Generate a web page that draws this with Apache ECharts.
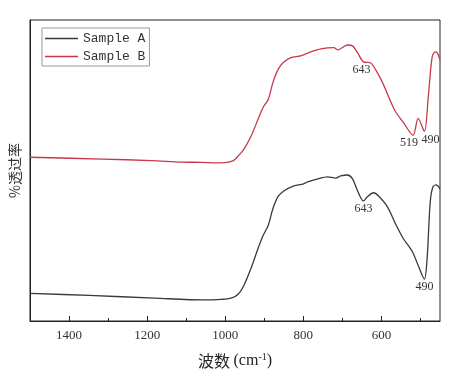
<!DOCTYPE html>
<html>
<head>
<meta charset="utf-8">
<script src="https://cdn.jsdelivr.net/npm/echarts@6/dist/echarts.min.js"></script>
<style>html,body{margin:0;padding:0;background:#fff}#c{width:450px;height:374px}</style>
</head>
<body>
<div id="c"></div>
<script>
const seriesNames = ['Sample A', 'Sample B'];
const majorTicks = [1400, 1200, 1000, 800, 600];
const minorTicks = [1300, 1100, 900, 700, 500];

const waveA = [1500,1349,1181,1054,1010,985,967,952,934,916,903,890,878,865,850,824,801,789,763,738,717,704,687,674,661,646,636,620,608,585,564,544,521,506,490,483,475,468,460,450];
const transA = [9.2,8.5,7.6,7.0,7.2,7.6,8.9,11.9,17.5,24.1,28.4,31.7,37.3,41.3,43.2,44.9,45.5,46.2,47.2,47.9,47.5,48.2,48.5,47.2,43.2,39.9,41.3,42.6,41.6,38.0,32.3,27.4,23.1,18.5,13.9,20.8,39.6,44.6,45.2,43.9];

const waveB = [1500,1316,1189,1112,1061,1010,980,967,952,934,916,903,890,878,865,852,832,807,781,755,722,712,687,674,661,646,628,615,597,582,564,544,519,506,490,480,470,462,457,450];
const transB = [54.4,53.8,53.3,52.8,52.7,52.5,53.2,54.8,57.1,61.4,67.0,71.0,73.6,79.2,83.5,85.8,87.5,88.1,89.4,90.4,90.8,90.1,91.7,91.4,89.1,86.1,85.8,83.5,79.2,74.6,69.6,66.0,61.7,67.3,63.0,74.6,87.8,89.4,89.1,86.8];

// peak annotations: [wavenumber, label text, offsetX]
const peaksA = [[646, '643', 0], [490, '490', 0]];
const peaksB = [[646, '643', -2], [519, '519', -4], [490, '490', 6]];

const serif = '"Liberation Serif", "DejaVu Serif", serif';

function buildMarks(w, t, peaks) {
  return peaks.map(p => {
    const i = w.indexOf(p[0]);
    return {
      coord: [w[i], t[i]],
      label: {show: true, position: 'bottom', distance: 2, offset: [p[2], 0], formatter: p[1],
        fontFamily: serif, fontSize: 12, color: '#333'}
    };
  });
}

const chart = echarts.init(document.getElementById('c'), null, {renderer: 'canvas'});
chart.setOption({
  animation: false,
  backgroundColor: '#fff',
  grid: {left: 27, right: 10, top: 20, bottom: 51, show: true, borderColor: '#222', borderWidth: 1, backgroundColor: 'transparent'},
  legend: {
    orient: 'vertical', left: 42, top: 28,
    data: seriesNames,
    icon: 'rect',
    itemWidth: 33, itemHeight: 1.6, itemGap: 3,
    padding: [3, 4, 2, 3],
    borderColor: '#999', borderWidth: 1,
    textStyle: {fontFamily: '"Liberation Mono", "DejaVu Sans Mono", monospace', fontSize: 13, color: '#333', lineHeight: 15}
  },
  xAxis: [{
    type: 'value', inverse: true, min: 450, max: 1500,
    name: '波数 {p|(cm}{s|-1}{p|)}', nameLocation: 'middle', nameGap: 31,
    nameTextStyle: {fontFamily: '"Noto Sans CJK SC", serif', fontSize: 16, color: '#222',
      rich: {p: {fontFamily: serif, fontSize: 16, color: '#222'}, s: {fontFamily: serif, fontSize: 10, color: '#222', verticalAlign: 'top', padding: [0, 0, 8, 0]}}},
    axisLine: {show: true, lineStyle: {color: '#222', width: 1}},
    axisTick: {show: true, inside: true, length: 5, customValues: majorTicks, lineStyle: {color: '#222'}},
    axisLabel: {show: true, customValues: majorTicks, formatter: v => String(v), fontFamily: serif, fontSize: 13, color: '#333', margin: 8},
    splitLine: {show: false}
  }, {
    type: 'value', inverse: true, min: 450, max: 1500, position: 'bottom',
    axisLine: {show: false},
    axisTick: {show: true, inside: true, length: 3, customValues: minorTicks, lineStyle: {color: '#222'}},
    axisLabel: {show: false},
    splitLine: {show: false}
  }],
  yAxis: {
    type: 'value', min: 0, max: 100,
    name: '%透过率', nameLocation: 'middle', nameGap: 8, nameRotate: 90,
    nameTextStyle: {fontFamily: '"Noto Sans CJK SC", serif', fontSize: 14, color: '#333'},
    axisLine: {show: true, lineStyle: {color: '#222'}},
    axisTick: {show: false}, axisLabel: {show: false}, splitLine: {show: false}
  },
  series: [{
    name: seriesNames[0], type: 'line', xAxisIndex: 0, symbol: 'none', smooth: 0.3,
    lineStyle: {color: '#3a3a3a', width: 1.3}, itemStyle: {color: '#3a3a3a'},
    data: waveA.map((x, i) => [x, transA[i]]),
    markPoint: {symbol: 'circle', symbolSize: 0.1, itemStyle: {color: 'transparent'}, data: buildMarks(waveA, transA, peaksA)}
  }, {
    name: seriesNames[1], type: 'line', xAxisIndex: 0, symbol: 'none', smooth: 0.3,
    lineStyle: {color: '#c8384a', width: 1.3}, itemStyle: {color: '#c8384a'},
    data: waveB.map((x, i) => [x, transB[i]]),
    markPoint: {symbol: 'circle', symbolSize: 0.1, itemStyle: {color: 'transparent'}, data: buildMarks(waveB, transB, peaksB)}
  }]
});
</script>
</body>
</html>
